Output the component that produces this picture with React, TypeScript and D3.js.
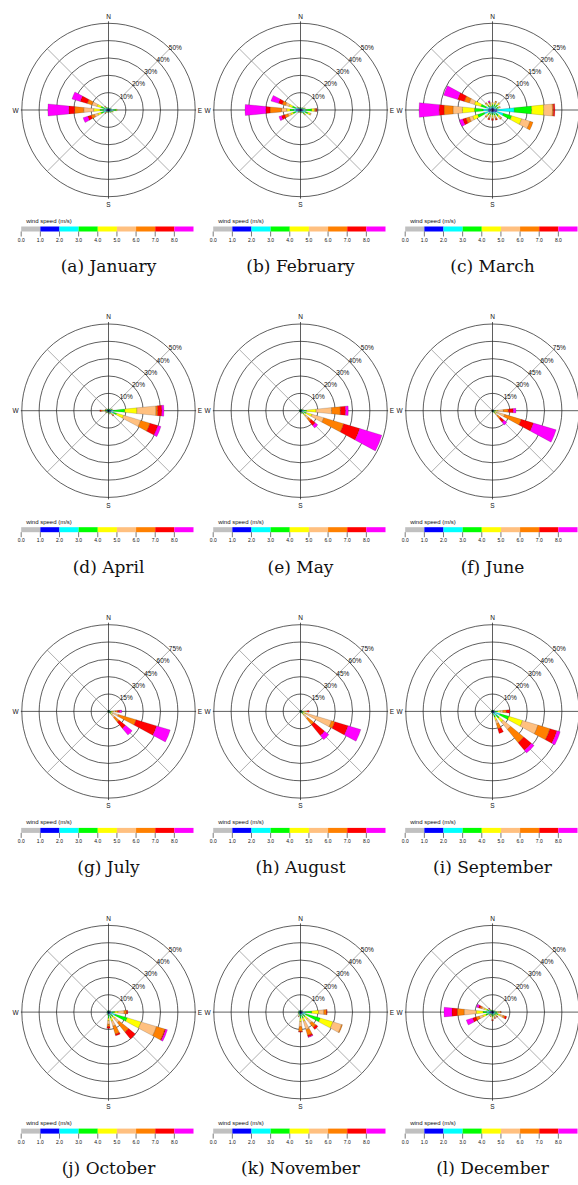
import React from "react";
import * as d3 from "d3";

// ---------- data ----------
const directionDeg = [0, 22.5, 45, 67.5, 90, 112.5, 135, 157.5, 180, 202.5, 225, 247.5, 270, 292.5, 315, 337.5];
const speedTickLabels = ["0.0", "1.0", "2.0", "3.0", "4.0", "5.0", "6.0", "7.0", "8.0"];
const speedColors = ["#c0c0c0", "#0000ff", "#00ffff", "#00ff00", "#ffff00", "#ffc080", "#ff8000", "#ff0000", "#ff00ff"];
const captions = [
  "(a) January", "(b) February", "(c) March", "(d) April", "(e) May", "(f) June",
  "(g) July", "(h) August", "(i) September", "(j) October", "(k) November", "(l) December",
];
const ringTicks50 = [10, 20, 30, 40, 50];
const ringTicks25 = [5, 10, 15, 20, 25];
const ringTicks75 = [15, 30, 45, 60, 75];
const monthRings = [ringTicks50, ringTicks50, ringTicks25, ringTicks50, ringTicks50, ringTicks75,
  ringTicks75, ringTicks75, ringTicks50, ringTicks50, ringTicks50, ringTicks50];

// frequency (%) per speed bin, per direction N, NNE, ... NNW
const january = [
  [0.3, 0.4, 0.4, 0.3], [0.2, 0.3, 0.3, 0.2], [0.3, 0.4, 0.4, 0.3], [0.3, 0.5, 0.6, 0.4],
  [0.5, 1, 1.5, 1.5, 0.5], [0.4, 0.6, 0.8, 0.7, 0.5], [0.3, 0.5, 0.5, 0.4, 0.3], [0.3, 0.4, 0.4, 0.3],
  [0.3, 0.4, 0.4, 0.3, 0.2], [0.3, 0.4, 0.4, 0.3, 0.2], [0.3, 0.4, 0.5, 0.5, 0.4, 0.3, 0.2, 0.2], [0.5, 1, 1.5, 1.5, 2, 2, 2, 2, 2.8],
  [0.6, 0.9, 1.4, 1.9, 3.8, 5.7, 5.3, 3.3, 12.1], [0.5, 0.7, 1.3, 2, 2.5, 3, 2.8, 4.2, 5], [0.3, 0.5, 0.6, 0.6, 0.5, 0.3, 0.2], [0.3, 0.4, 0.4, 0.3, 0.1],
];
const february = [
  [0.3, 0.4, 0.4, 0.3, 0.1], [0.3, 0.4, 0.4, 0.3], [0.3, 0.4, 0.5, 0.4, 0.2], [0.4, 0.6, 0.8, 0.7, 0.5],
  [0.5, 1, 1.5, 3.5, 1.5, 0.5, 0.5, 0.4], [0.5, 1, 1.5, 1.5, 1.5, 0.5], [0.4, 0.6, 1, 1, 0.6, 0.4], [0.3, 0.4, 0.5, 0.4, 0.3],
  [0.3, 0.4, 0.4, 0.3, 0.2], [0.3, 0.4, 0.4, 0.3, 0.2], [0.3, 0.4, 0.5, 0.4, 0.3, 0.2], [0.7, 0.8, 1.5, 1.5, 1.5, 1.5, 2, 2, 1.5],
  [1.2, 1.3, 1.5, 2, 2, 3, 6.6, 2.4, 12], [0.8, 1, 1.2, 2, 2, 2, 2, 2.3, 4.5], [0.4, 0.5, 0.6, 0.5, 0.4, 0.2], [0.3, 0.4, 0.4, 0.3, 0.2],
];
const march = [
  [0.2, 0.4, 0.5, 0.5, 0.4, 0.2], [0.2, 0.4, 0.5, 0.6, 0.5, 0.3, 0.2], [0.2, 0.4, 0.6, 0.8, 0.6, 0.3], [0.2, 0.4, 0.6, 0.6, 0.4, 0.2],
  [0.3, 1, 5, 5, 3.5, 2.5, 0.3, 0.4], [0.3, 1, 2, 2.5, 3, 2.5, 0.9], [0.2, 0.5, 0.8, 0.8, 0.6, 0.4, 0.2], [0.2, 0.4, 0.5, 0.5, 0.5, 0.4, 0.3, 0.3],
  [0.2, 0.3, 0.5, 0.5, 0.5, 0.4, 0.3, 0.3], [0.2, 0.3, 0.5, 0.5, 0.5, 0.4, 0.3, 0.3], [0.2, 0.4, 0.6, 0.6, 0.5, 0.3, 0.2], [0.5, 0.7, 1.3, 2, 1.5, 1, 1, 1, 1],
  [0.5, 0.7, 1.5, 2.5, 3.5, 2.7, 2.6, 1.4, 5.8], [0.4, 0.6, 1, 1.5, 2, 1.5, 1.5, 2, 4.2], [0.2, 0.4, 0.6, 0.6, 0.5, 0.3, 0.2], [0.2, 0.3, 0.4, 0.4, 0.4, 0.3, 0.3, 0.2, 0.3],
];
const april = [
  [0.2, 0.3, 0.4, 0.3, 0.2], [0.2, 0.3, 0.3, 0.2], [0.2, 0.3, 0.4, 0.3, 0.3], [0.3, 0.5, 0.7, 0.6, 0.4],
  [0.6, 0.9, 1.5, 6.4, 7, 11, 1, 2.4, 1.2], [0.6, 0.9, 1.5, 2, 4.1, 10.3, 5.6, 4.7, 1.9], [0.3, 0.5, 0.6, 0.7, 0.7, 0.5, 0.5, 0.2], [0.3, 0.4, 0.5, 0.4, 0.3, 0.2],
  [0.2, 0.3, 0.4, 0.3, 0.2, 0.1], [0.2, 0.3, 0.3, 0.3, 0.2], [0.2, 0.3, 0.4, 0.4, 0.3, 0.2], [0.2, 0.3, 0.4, 0.4, 0.3, 0.3, 0.2],
  [0.3, 0.5, 0.6, 0.7, 0.7, 0.8, 0.8, 0.6], [0.2, 0.3, 0.4, 0.4, 0.3, 0.3, 0.2], [0.2, 0.3, 0.4, 0.3, 0.2], [0.2, 0.3, 0.3, 0.2],
];
const may = [
  [0.2, 0.3, 0.3, 0.2], [0.2, 0.2, 0.3, 0.2], [0.2, 0.3, 0.3, 0.2], [0.2, 0.3, 0.4, 0.4, 0.3, 0.2],
  [0.4, 0.6, 1, 1.5, 5.5, 9, 5, 3, 1.6], [0.4, 0.6, 1, 1.5, 3.5, 7, 12, 9.7, 13.3], [0.3, 0.5, 0.7, 1, 1.5, 2, 2, 3, 1.9], [0.2, 0.3, 0.4, 0.4, 0.3, 0.2],
  [0.2, 0.2, 0.3, 0.3, 0.2], [0.1, 0.2, 0.2, 0.2], [0.1, 0.2, 0.2, 0.2], [0.1, 0.2, 0.2, 0.2],
  [0.2, 0.2, 0.3, 0.2], [0.1, 0.2, 0.2, 0.2], [0.1, 0.2, 0.2, 0.1], [0.1, 0.2, 0.2, 0.1],
];
const june = [
  [0.1, 0.2, 0.2, 0.1], [0.1, 0.2, 0.2, 0.1], [0.1, 0.2, 0.3, 0.2], [0.2, 0.3, 0.4, 0.3, 0.2],
  [0.3, 0.5, 0.7, 1.2, 2, 4.7, 4.3, 4.3, 2.3], [0.3, 0.4, 0.5, 0.8, 2, 7, 15, 11, 20.5], [0.3, 0.5, 0.7, 1, 1.5, 2, 3, 4, 3], [0.2, 0.3, 0.4, 0.4, 0.3],
  [0.1, 0.2, 0.3, 0.2], [0.1, 0.2, 0.2, 0.1], [0.1, 0.2, 0.2, 0.1], [0.1, 0.2, 0.2, 0.1],
  [0.1, 0.2, 0.2, 0.1], [0.1, 0.2, 0.2, 0.1], [0.1, 0.2, 0.2, 0.1], [0.1, 0.2, 0.2, 0.1],
];
const july = [
  [0.1, 0.2, 0.2, 0.1], [0.1, 0.2, 0.2, 0.1], [0.1, 0.2, 0.3, 0.2], [0.2, 0.3, 0.4, 0.3, 0.2],
  [0.3, 0.5, 0.7, 1, 1.5, 2, 2, 1.6, 1.8], [0.3, 0.5, 0.7, 1, 1.5, 5, 16, 18.5, 12.3], [0.3, 0.5, 0.7, 1, 1.5, 3, 5, 7, 7.5], [0.2, 0.3, 0.4, 0.4, 0.3],
  [0.1, 0.2, 0.3, 0.2], [0.1, 0.2, 0.2, 0.1], [0.1, 0.2, 0.2, 0.1], [0.1, 0.2, 0.2, 0.1],
  [0.1, 0.2, 0.2, 0.1], [0.1, 0.2, 0.2, 0.1], [0.1, 0.2, 0.2, 0.1], [0.1, 0.2, 0.2, 0.1],
];
const august = [
  [0.1, 0.2, 0.2, 0.1], [0.1, 0.2, 0.2, 0.1], [0.1, 0.2, 0.3, 0.2], [0.2, 0.3, 0.4, 0.3, 0.2],
  [0.3, 0.5, 0.7, 1, 1, 1, 1.5, 1.5], [0.3, 0.5, 0.7, 1, 2.5, 23, 3, 12, 11.5], [0.3, 0.5, 0.7, 1, 1.5, 4, 7, 12, 4.7], [0.2, 0.3, 0.4, 0.4, 0.3],
  [0.1, 0.2, 0.3, 0.2], [0.1, 0.2, 0.2, 0.1], [0.1, 0.2, 0.2, 0.1], [0.1, 0.2, 0.2, 0.1],
  [0.1, 0.2, 0.2, 0.1], [0.1, 0.2, 0.2, 0.1], [0.1, 0.2, 0.2, 0.1], [0.1, 0.2, 0.2, 0.1],
];
const september = [
  [0.1, 0.2, 0.2, 0.1], [0.1, 0.2, 0.2, 0.1], [0.2, 0.3, 0.3, 0.2], [0.2, 0.3, 0.4, 0.3, 0.2],
  [0.3, 0.5, 0.7, 1.5, 1.5, 1.5, 2, 2], [0.4, 0.8, 3.5, 5.2, 8.2, 9.3, 7.2, 4.2, 2], [0.5, 0.8, 1.7, 2, 3, 5.5, 9.8, 5.7, 2], [0.4, 0.6, 1, 1.5, 2, 2, 3, 2.8],
  [0.3, 0.4, 0.5, 0.4, 0.3, 0.2], [0.2, 0.3, 0.3, 0.2], [0.1, 0.2, 0.2, 0.1], [0.1, 0.2, 0.2, 0.1],
  [0.1, 0.2, 0.2, 0.1], [0.1, 0.2, 0.2, 0.1], [0.1, 0.2, 0.2, 0.1], [0.1, 0.2, 0.2, 0.1],
];
const october = [
  [0.2, 0.3, 0.3, 0.2], [0.2, 0.2, 0.3, 0.2], [0.2, 0.3, 0.3, 0.2], [0.2, 0.3, 0.4, 0.3, 0.2],
  [0.4, 0.6, 1, 1.5, 2, 3.5, 1.5, 0.6], [0.5, 1, 2.6, 7.2, 8.3, 9.3, 5.1, 0.5, 1], [0.4, 0.6, 1, 1.5, 1.5, 3, 7, 5], [0.4, 0.6, 1, 1.5, 2, 3, 4.8, 1],
  [0.4, 0.6, 1, 1.5, 1.5, 2, 1.4, 1], [0.3, 0.4, 0.5, 0.4, 0.3], [0.2, 0.3, 0.3, 0.2], [0.2, 0.3, 0.3, 0.2],
  [0.2, 0.3, 0.3, 0.2], [0.2, 0.2, 0.3, 0.2], [0.2, 0.2, 0.2, 0.2], [0.2, 0.2, 0.3, 0.2],
];
const november = [
  [0.2, 0.3, 0.3, 0.2], [0.2, 0.3, 0.3, 0.2], [0.2, 0.3, 0.3, 0.2], [0.3, 0.4, 0.4, 0.3, 0.2],
  [0.4, 0.6, 1.5, 4, 4, 3, 1.5, 0.4], [0.5, 1, 1.7, 8.7, 7.6, 5.3, 0.5], [0.4, 0.6, 1, 1.5, 2, 3, 3, 1.5], [0.4, 0.6, 1, 1.5, 2, 5, 3.5, 1, 0.3],
  [0.4, 0.6, 1, 1.5, 2, 3, 2.6, 0.5], [0.3, 0.5, 0.6, 0.6, 0.5, 0.3, 0.2], [0.3, 0.4, 0.4, 0.3, 0.2], [0.3, 0.4, 0.4, 0.3, 0.2],
  [0.3, 0.4, 0.4, 0.3], [0.2, 0.3, 0.4, 0.3], [0.2, 0.3, 0.3, 0.2], [0.2, 0.3, 0.3, 0.2],
];
const december = [
  [0.2, 0.3, 0.3, 0.2], [0.2, 0.3, 0.3, 0.2], [0.2, 0.3, 0.3, 0.2], [0.3, 0.4, 0.5, 0.4, 0.2],
  [0.3, 0.5, 0.8, 1, 0.9, 0.8, 0.5, 0.2], [0.3, 0.6, 1, 1.5, 1.5, 1.5, 1.2, 1], [0.3, 0.5, 0.7, 0.8, 0.7, 0.5, 0.3, 0.2], [0.3, 0.5, 0.7, 0.8, 0.6, 0.5, 0.4, 0.2],
  [0.3, 0.5, 0.8, 0.9, 0.9, 0.8, 0.5, 0.3], [0.3, 0.4, 0.6, 0.6, 0.5, 0.3, 0.2], [0.3, 0.4, 0.5, 0.5, 0.4, 0.3, 0.2], [0.5, 0.8, 1.2, 1.5, 2, 2, 2, 2, 3.8],
  [0.7, 1.1, 1.7, 1.9, 4, 7, 4, 3, 4.6], [0.5, 0.8, 1, 1.2, 1.5, 1.5, 1, 1, 1.2], [0.3, 0.4, 0.5, 0.5, 0.4, 0.3, 0.2, 0.2, 0.3], [0.2, 0.3, 0.4, 0.3, 0.2],
];
const monthData = [january, february, march, april, may, june, july, august, september, october, november, december];

// ---------- layout ----------
const W = 578;
const H = 1185;
const colX = [108.5, 300.5, 492.5];
const rowY0 = 110;
const rowStep = 300.7;
const R = 86.7;
const halfWedge = (5.75 * Math.PI) / 180;
const SANS = "'Liberation Sans', Arial, Helvetica, sans-serif";

function Rose({ data, rings, caption, cx, cy, showEast }: { data: number[][]; rings: number[]; caption: string; cx: number; cy: number; showEast: boolean }) {
  const rScale = d3.scaleLinear().domain([0, d3.max(rings) as number]).range([0, R]);
  const arc = d3.arc<any>();
  const wedges: { d: string; fill: string; key: string }[] = [];
  data.forEach((bins, di) => {
    const cum = Array.from(d3.cumsum(bins));
    const a = (directionDeg[di] * Math.PI) / 180;
    bins.forEach((v, bi) => {
      if (v <= 0) return;
      const inner = bi === 0 ? 0 : cum[bi - 1];
      const d = arc({
        innerRadius: rScale(inner),
        outerRadius: rScale(cum[bi]),
        startAngle: a - halfWedge,
        endAngle: a + halfWedge,
      }) as string;
      wedges.push({ d, fill: speedColors[bi], key: `${di}-${bi}` });
    });
  });
  const cb = d3.scaleLinear().domain([0, 9]).range([cx - 87.3, cx + 85]);
  const diagonals = [45, 135, 225, 315];
  return (
    <g>
      <g transform={`translate(${cx},${cy})`}>
        {rings.map((t) => (
          <circle key={t} r={rScale(t)} fill="none" stroke="#1a1a1a" strokeWidth={0.7} />
        ))}
        {diagonals.map((deg) => {
          const a = (deg * Math.PI) / 180;
          return (
            <line key={deg} x1={0} y1={0} x2={R * Math.sin(a)} y2={-R * Math.cos(a)} stroke="#8c8c8c" strokeWidth={0.7} />
          );
        })}
        <line x1={-R - 1} x2={R + 1} y1={0} y2={0} stroke="#1a1a1a" strokeWidth={0.7} />
        <line x1={0} x2={0} y1={-R - 2} y2={R + 2} stroke="#1a1a1a" strokeWidth={0.7} />
        {wedges.map((w) => (
          <path key={w.key} d={w.d} fill={w.fill} stroke="#000" strokeOpacity={0.45} strokeWidth={0.35} />
        ))}
        {rings.map((t) => {
          const rr = rScale(t) * Math.SQRT1_2;
          return (
            <text key={t} x={rr + 5.5} y={-rr - 1.5} fontSize={6.5} fontFamily={SANS} textAnchor="middle" dominantBaseline="central" fill="#111">
              {t}%
            </text>
          );
        })}
        <text x={0} y={-94} fontSize={6.5} fontFamily={SANS} textAnchor="middle" dominantBaseline="central" fill="#111">N</text>
        <text x={0} y={94.5} fontSize={6.5} fontFamily={SANS} textAnchor="middle" dominantBaseline="central" fill="#111">S</text>
        <text x={-93} y={0} fontSize={6.5} fontFamily={SANS} textAnchor="middle" dominantBaseline="central" fill="#111">W</text>
        {showEast && (
          <text x={91.5} y={0} fontSize={6.5} fontFamily={SANS} textAnchor="middle" dominantBaseline="central" fill="#111">E</text>
        )}
      </g>
      {/* colour key */}
      <text x={cb(0) + 5} y={cy + 113} fontSize={6} fontFamily={SANS} fill="#111">wind speed (m/s)</text>
      {speedColors.map((c, i) => (
        <rect key={c} x={cb(i)} y={cy + 116.5} width={cb(i + 1) - cb(i)} height={5} fill={c} />
      ))}
      {speedTickLabels.map((t, i) => (
        <g key={t}>
          <line x1={cb(i)} x2={cb(i)} y1={cy + 121.5} y2={cy + 126.5} stroke="#222" strokeWidth={0.6} />
          <text x={cb(i)} y={cy + 131.5} fontSize={5} fontFamily={SANS} textAnchor="middle" fill="#111">{t}</text>
        </g>
      ))}
      <text x={cx} y={cy + 162} fontSize={17} fontFamily="'DejaVu Serif', serif" textAnchor="middle" fill="#111">
        {caption}
      </text>
    </g>
  );
}

export default function App() {
  return (
    <svg width={W} height={H} style={{ position: "absolute", left: 0, top: 0, background: "#fff" }}>
      <rect width={W} height={H} fill="#fff" />
      {monthData.map((data, i) => (
        <Rose
          key={i}
          data={data}
          rings={monthRings[i]}
          caption={captions[i]}
          cx={colX[i % 3]}
          cy={rowY0 + Math.floor(i / 3) * rowStep}
          showEast={i % 3 !== 2}
        />
      ))}
    </svg>
  );
}
